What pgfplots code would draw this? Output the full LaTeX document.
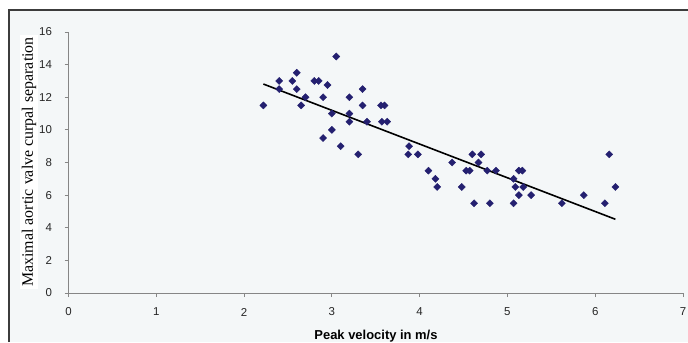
\documentclass[border=0pt]{standalone}
\usepackage{fontspec}
\setmainfont{Liberation Sans}
\newfontfamily\seriffont{Liberation Serif}
\usepackage{pgfplots}
\pgfplotsset{compat=1.18}
\definecolor{bgc}{RGB}{244,247,248}
\definecolor{pts}{RGB}{36,32,112}
\definecolor{axc}{RGB}{134,134,134}
\definecolor{brd}{RGB}{60,60,60}
\begin{document}
\begin{tikzpicture}[x=1bp,y=1bp]
\path[use as bounding box] (0,0) rectangle (688,342);
\fill[white] (0,0) rectangle (688,342);
\fill[bgc] (9,0) rectangle (688,332);
\draw[brd, line width=1.3bp] (9,0) -- (9,332) -- (688,332);
\begin{axis}[at={(68.5bp,49bp)}, anchor=south west, scale only axis,
  width=614.5bp, height=261bp,
  xmin=0, xmax=7, ymin=0, ymax=16,
  axis x line*=bottom, axis y line*=left,
  axis line style={axc, line width=0.9bp, -},
  xtick={0,...,7}, ytick={0,2,...,16},
  tick align=outside, major tick length=4bp,
  tick style={axc, line width=0.8bp},
  /pgf/number format/assume math mode=true,
  ticklabel style={font=\fontsize{11.5}{13}\selectfont, text=black!85},
  xticklabel style={anchor=center, yshift=-15bp},
  yticklabel style={anchor=east, xshift=-9bp},
  clip=false]
\addplot[only marks, mark=square*, mark size=2.5bp, mark options={rotate=45, fill=pts, draw=pts}] coordinates {
(2.22,11.5) (2.4,13) (2.4,12.5) (2.55,13) (2.6,13.5) (2.6,12.5) (2.65,11.5) (2.7,12)
(2.8,13) (2.85,13) (2.9,12) (2.95,12.75) (3.05,14.5) (3.0,11) (3.0,10) (2.9,9.5)
(3.1,9) (3.2,12) (3.2,11) (3.2,10.5) (3.3,8.5) (3.35,12.5) (3.35,11.5) (3.4,10.5)
(3.56,11.5) (3.6,11.5) (3.57,10.5) (3.63,10.5) (3.88,9) (3.87,8.5) (3.98,8.5)
(4.1,7.5) (4.18,7) (4.2,6.5) (4.37,8) (4.48,6.5) (4.53,7.5) (4.57,7.5) (4.6,8.5)
(4.7,8.5) (4.67,8) (4.62,5.5) (4.77,7.5) (4.87,7.5) (4.8,5.5) (5.07,7) (5.09,6.5)
(5.07,5.5) (5.13,7.5) (5.17,7.5) (5.18,6.5) (5.13,6) (5.27,6) (5.62,5.5) (5.87,6)
(6.11,5.5) (6.16,8.5) (6.23,6.5)
};
\addplot[black, line width=1.6bp] coordinates {(2.22,12.81) (6.23,4.52)};
\end{axis}
\node[fill=white, rotate=90, inner sep=2bp, font=\seriffont\fontsize{16}{19}\selectfont] at (29,180) {Maximal aortic valve curpal separation};
\node[anchor=base, font=\bfseries\fontsize{13}{15}\selectfont] at (376,2.5) {Peak velocity in m/s};
\end{tikzpicture}
\end{document}
